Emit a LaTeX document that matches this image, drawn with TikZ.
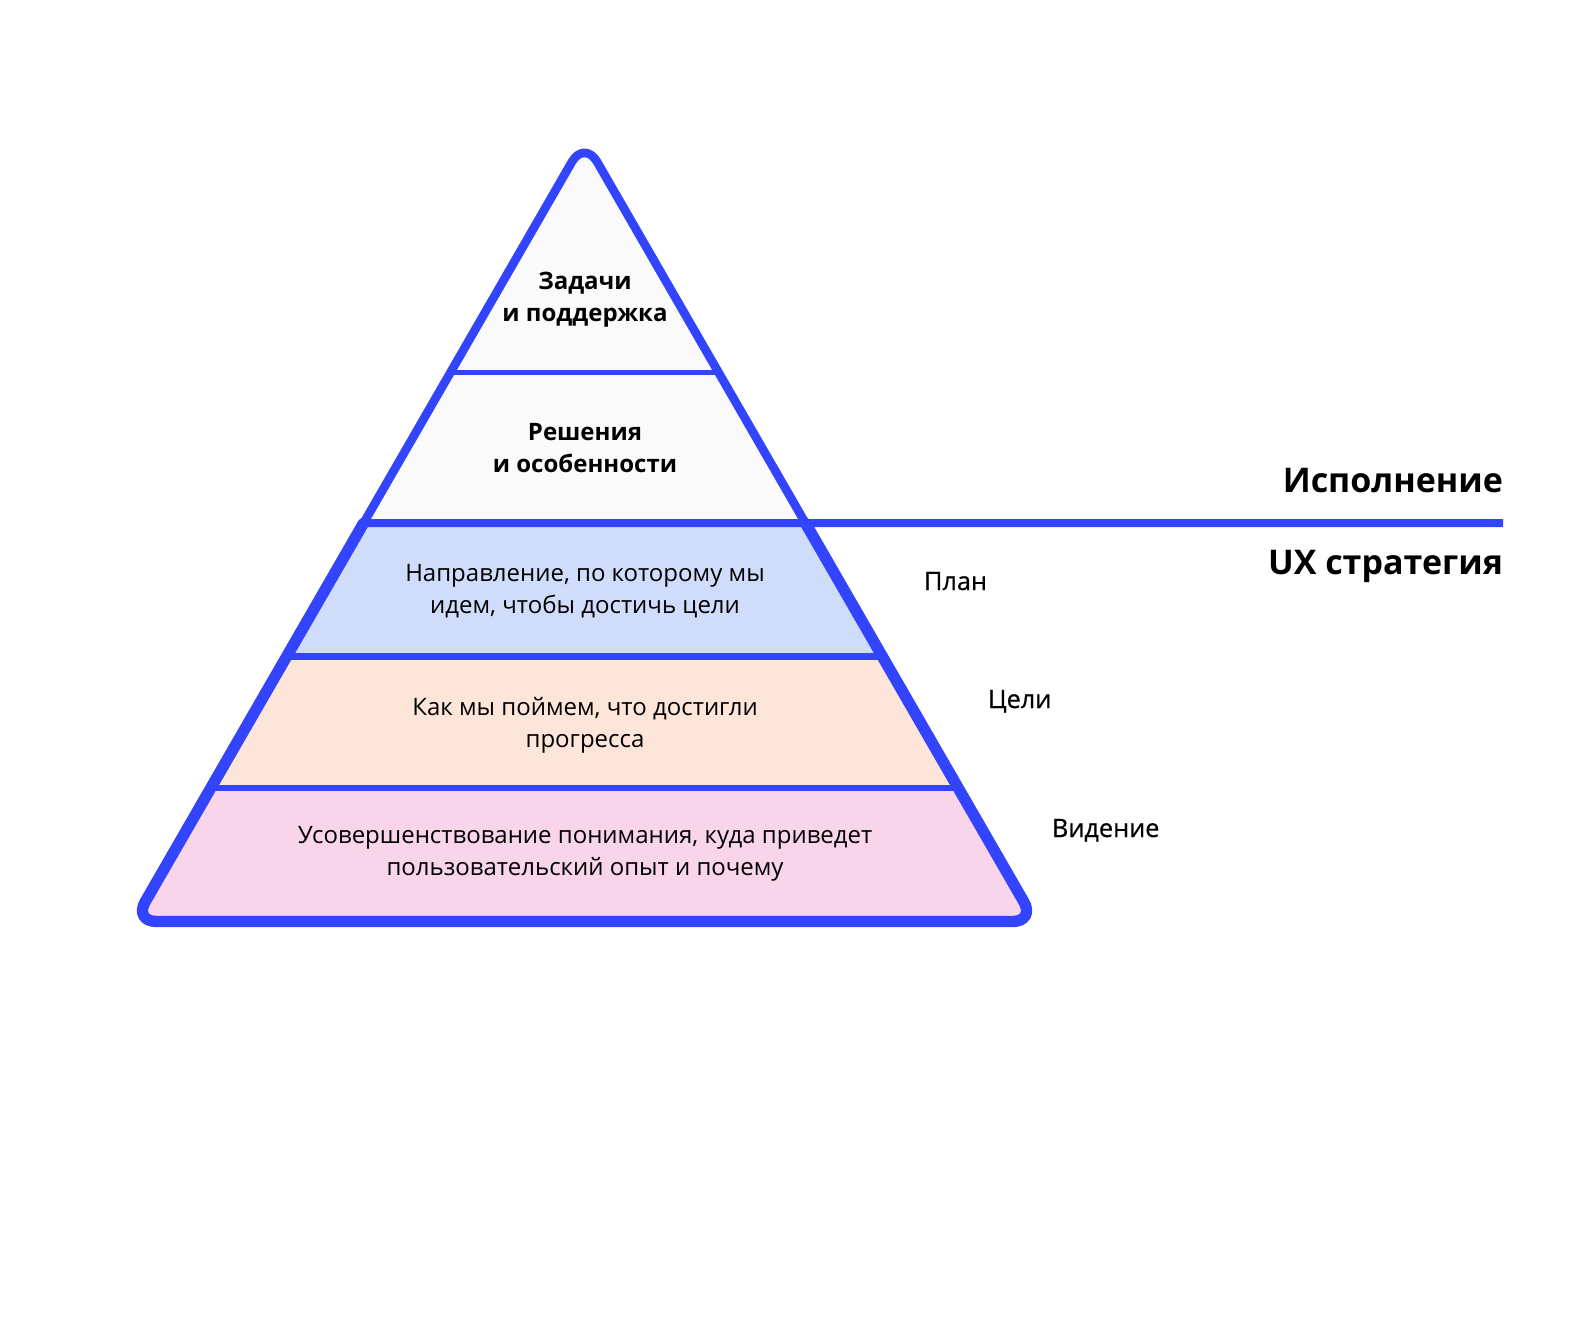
\documentclass[tikz,border=0pt]{standalone}
\usepackage{fontspec}
\setmainfont{Open Sans}
\newfontfamily\medfont[FakeBold=0.6]{Open Sans}
\usetikzlibrary{calc}

\definecolor{pyrblue}{RGB}{51,68,255}
\definecolor{topfill}{RGB}{250,250,250}
\definecolor{planfill}{RGB}{207,220,250}
\definecolor{goalfill}{RGB}{253,229,217}
\definecolor{visionfill}{RGB}{249,213,236}

\tikzset{every picture/.style={line width=0.75pt}}
\tikzset{
  layertext/.style={align=center, font=\fontsize{18}{24}\selectfont, text=black},
  layertitle/.style={align=center, font=\fontsize{18}{24}\selectfont\bfseries, text=black},
  sidelabel/.style={anchor=base west, font=\fontsize{19}{22}\selectfont\medfont, text=black},
  biglabel/.style={anchor=base east, font=\fontsize{25.5}{30}\selectfont\bfseries, text=black},
}

\begin{document}
\begin{tikzpicture}[x=0.75pt,y=0.75pt,yscale=-1,xscale=1]
	\path (0,0) rectangle (1569,1321); %set diagram size

	\coordinate (apex) at (584.5,140);
	\coordinate (bl) at (133.8,921.5);
	\coordinate (br) at (1035.2,921.5);
	% edge points at the layer borders
	\coordinate (l1) at ($(apex)!0.2981!(bl)$);
	\coordinate (r1) at ($(apex)!0.2981!(br)$);
	\coordinate (l2) at ($(apex)!0.4901!(bl)$);
	\coordinate (r2) at ($(apex)!0.4901!(br)$);
	\coordinate (l3) at ($(apex)!0.6609!(bl)$);
	\coordinate (r3) at ($(apex)!0.6609!(br)$);
	\coordinate (l4) at ($(apex)!0.8292!(bl)$);
	\coordinate (r4) at ($(apex)!0.8292!(br)$);
	\coordinate (lineend) at (1503,523);

	%Shape: layer fills
	\begin{scope}
		\clip [rounded corners=19] (apex) -- (bl) -- (br) -- cycle;
		\fill [topfill] (0,100) rectangle (1569,523);
		\fill [planfill] (0,523) rectangle (1569,656.5);
		\fill [goalfill] (0,656.5) rectangle (1569,788);
		\fill [visionfill] (0,788) rectangle (1569,960);
	\end{scope}

	%Straight Lines: layer borders
	\draw [pyrblue, line width=3.75pt] (l1) -- (r1);
	\draw [pyrblue, line width=5.25pt] (l3) -- (r3);
	\draw [pyrblue, line width=4.5pt] (l4) -- (r4);
	\draw [pyrblue, line width=6pt] ($(l2)+(3,0)$) -- (lineend);

	%Shape: pyramid outline
	\draw [pyrblue, line width=6.5pt, rounded corners=19, line join=round, line cap=round] (l2) -- (apex) -- (r2);
	\draw [pyrblue, line width=8.5pt, rounded corners=17, line join=round, line cap=round] (l2) -- (bl) -- (br) -- (r2);

	% Text Node
	\node [layertitle] (tasks) at (585,300) {Задачи\\и поддержка};
	% Text Node
	\node [layertitle] (solutions) at (585,448) {Решения\\и особенности};
	% Text Node
	\node [layertext] (plantext) at (585,591) {Направление, по которому мы\\идем, чтобы достичь цели};
	% Text Node
	\node [layertext] (goaltext) at (585,725) {Как мы поймем, что достигли\\прогресса};
	% Text Node
	\node [layertext] (visiontext) at (585,854) {Усовершенствование понимания, куда приведет\\пользовательский опыт и почему};

	% Text Node
	\node [sidelabel] (plan) at (919,590) {План};
	% Text Node
	\node [sidelabel] (goals) at (983,708) {Цели};
	% Text Node
	\node [sidelabel] (vision) at (1047,837) {Видение};

	% Text Node
	\node [biglabel] (execution) at (1508,492) {Исполнение};
	% Text Node
	\node [biglabel] (strategy) at (1508,574) {UX стратегия};

\end{tikzpicture}
\end{document}
